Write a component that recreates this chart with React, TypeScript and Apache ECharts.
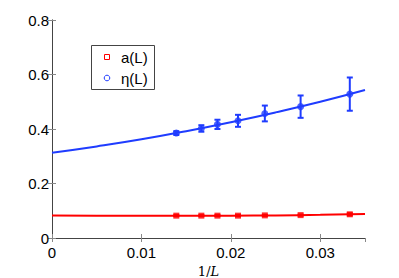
import React, { useEffect, useRef } from "react";
import * as echarts from "echarts";

const invL = [0.0139, 0.0167, 0.0185, 0.0208, 0.0238, 0.0278, 0.0333];
const etaVals = [0.385, 0.402, 0.417, 0.43, 0.457, 0.482, 0.528];
const etaErr = [0.007, 0.012, 0.017, 0.022, 0.029, 0.041, 0.061];
const aVals = [0.082, 0.082, 0.082, 0.082, 0.083, 0.084, 0.087];
const aErr = [0.002, 0.002, 0.002, 0.002, 0.002, 0.002, 0.004];

const fitX = [0, 0.005, 0.01, 0.015, 0.02, 0.025, 0.03, 0.035];
const etaFit = [0.313, 0.336, 0.362, 0.392, 0.425, 0.461, 0.5, 0.543];
const aFit = [0.083, 0.082, 0.0815, 0.0815, 0.082, 0.083, 0.085, 0.088];

const legendNames = ["a(L)", "η(L)"];

const xTicks = { min: 0, max: 0.035, interval: 0.01 };
const yTicks = { min: 0, max: 0.8, interval: 0.2 };

const RED = "#ff0000";
const BLUE = "#1f3cff";
const FONT = "Liberation Sans";

function errRender(color: string) {
  return (params: any, api: any) => {
    const x = api.value(0);
    const lo = api.value(1);
    const hi = api.value(2);
    const p1 = api.coord([x, hi]);
    const p2 = api.coord([x, lo]);
    const cw = 3;
    const style = { stroke: color, lineWidth: 2 };
    return {
      type: "group",
      children: [
        { type: "line", shape: { x1: p1[0], y1: p1[1], x2: p2[0], y2: p2[1] }, style },
        { type: "line", shape: { x1: p1[0] - cw, y1: p1[1], x2: p1[0] + cw, y2: p1[1] }, style },
        { type: "line", shape: { x1: p2[0] - cw, y1: p2[1], x2: p2[0] + cw, y2: p2[1] }, style },
      ],
    };
  };
}

function fmtX(v: number) {
  if (v === 0) return "0";
  if (Math.abs(v - 0.035) < 1e-9) return "";
  return String(+v.toFixed(3));
}
function fmtY(v: number) {
  if (v === 0) return "0";
  return String(+v.toFixed(2));
}

export default function App() {
  const ref = useRef<HTMLDivElement>(null);
  useEffect(() => {
    if (!ref.current) return;
    const chart = echarts.init(ref.current, undefined, { renderer: "svg" });
    const axisCommon = {
      type: "value" as const,
      splitLine: { show: false },
    };
    chart.setOption({
      animation: false,
      backgroundColor: "#ffffff",
      grid: { left: 52, right: 34, top: 20, bottom: 40, containLabel: false, outerBoundsMode: "none" },
      graphic: [
        {
          type: "rect",
          shape: { x: 91.5, y: 45.5, width: 63, height: 44 },
          style: { fill: "#fff", stroke: "#444", lineWidth: 1 },
          z: 10,
        },
        {
          type: "rect",
          shape: { x: 104.5, y: 54.5, width: 5, height: 5 },
          style: { fill: "none", stroke: RED, lineWidth: 1 },
          z: 11,
        },
        {
          type: "circle",
          shape: { cx: 107, cy: 78, r: 2.8 },
          style: { fill: "none", stroke: BLUE, lineWidth: 1 },
          z: 11,
        },
        {
          type: "text",
          x: 121,
          y: 57,
          style: { text: legendNames[0], fontFamily: FONT, fontSize: 15, fill: "#000", verticalAlign: "middle" },
          z: 11,
        },
        {
          type: "text",
          x: 121,
          y: 78,
          style: { text: legendNames[1], fontFamily: FONT, fontSize: 15, fill: "#000", verticalAlign: "middle" },
          z: 11,
        },
      ],
      xAxis: [
        {
          ...axisCommon,
          ...xTicks,
          position: "bottom",
          name: "{n|1/}{i|L}",
          nameLocation: "middle",
          nameGap: 24,
          nameTextStyle: {
            rich: {
              n: { fontFamily: "DejaVu Serif", fontSize: 13, color: "#000" },
              i: { fontFamily: "DejaVu Serif", fontStyle: "italic", fontSize: 13, color: "#000" },
            },
          },
          axisLine: { lineStyle: { color: "#888", width: 1 } },
          axisTick: { inside: true, length: 4, lineStyle: { color: "#888" } },
          axisLabel: { formatter: fmtX, fontFamily: FONT, fontSize: 15, color: "#000", margin: 7, showMaxLabel: false },
        },
        {
          ...axisCommon,
          ...xTicks,
          position: "top",
          axisLine: { lineStyle: { color: "#444", width: 1 } },
          axisTick: { inside: true, length: 4, lineStyle: { color: "#888" } },
          axisLabel: { show: false },
        },
      ],
      yAxis: [
        {
          ...axisCommon,
          ...yTicks,
          position: "left",
          axisLine: { show: true, lineStyle: { color: "#888", width: 1 } },
          axisTick: { show: true, inside: true, length: 4, lineStyle: { color: "#888" } },
          axisLabel: { formatter: fmtY, fontFamily: FONT, fontSize: 15, color: "#000", margin: 3 },
        },
        {
          ...axisCommon,
          ...yTicks,
          position: "right",
          axisLine: { show: true, lineStyle: { color: "#444", width: 1 } },
          axisTick: { show: true, inside: true, length: 4, lineStyle: { color: "#888" } },
          axisLabel: { show: false },
        },
      ],
      series: [
        {
          type: "line",
          name: "etaFit",
          data: fitX.map((x, i) => [x, etaFit[i]]),
          smooth: true,
          showSymbol: false,
          lineStyle: { color: BLUE, width: 2 },
          z: 2,
        },
        {
          type: "line",
          name: "aFit",
          data: fitX.map((x, i) => [x, aFit[i]]),
          smooth: true,
          showSymbol: false,
          lineStyle: { color: RED, width: 2 },
          z: 2,
        },
        {
          type: "custom",
          name: "etaErr",
          renderItem: errRender(BLUE),
          data: invL.map((x, i) => [x, etaVals[i] - etaErr[i], etaVals[i] + etaErr[i]]),
          z: 3,
        },
        {
          type: "custom",
          name: "aErr",
          renderItem: errRender(RED),
          data: invL.map((x, i) => [x, aVals[i] - aErr[i], aVals[i] + aErr[i]]),
          z: 3,
        },
        {
          type: "scatter",
          name: "η(L)",
          data: invL.map((x, i) => [x, etaVals[i]]),
          symbol: "circle",
          symbolSize: 7,
          itemStyle: { color: BLUE },
          z: 4,
        },
        {
          type: "scatter",
          name: "a(L)",
          data: invL.map((x, i) => [x, aVals[i]]),
          symbol: "rect",
          symbolSize: 6,
          itemStyle: { color: RED },
          z: 4,
        },
      ],
    });
    return () => chart.dispose();
  }, []);
  return (
    <div
      ref={ref}
      style={{ position: "fixed", left: 0, top: 0, width: 399, height: 278 }}
    />
  );
}
